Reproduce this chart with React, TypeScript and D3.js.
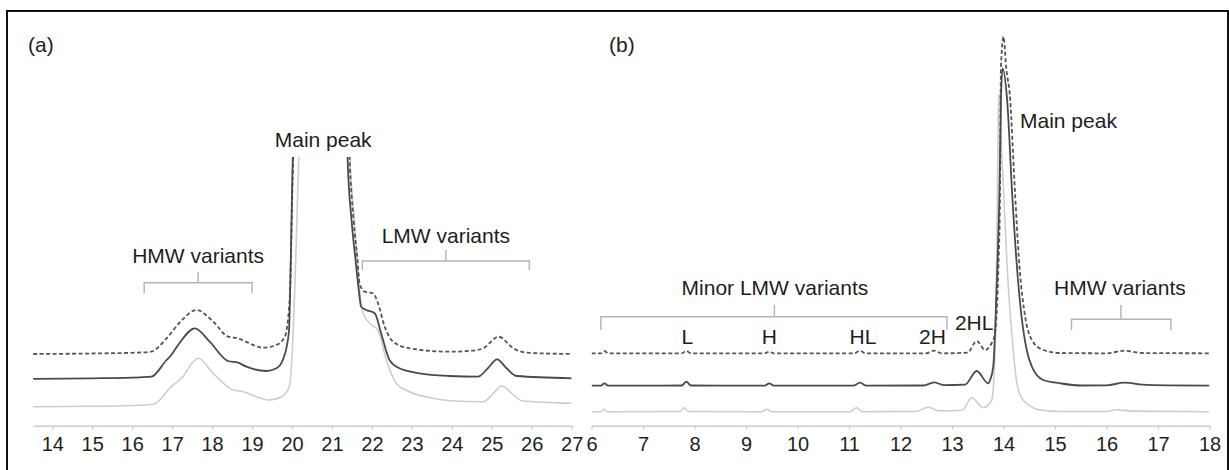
import React from "react";
import * as d3 from "d3";

// ---------- DATA (retention time in min, detector signal in arbitrary units) ----------
// Panel (a) – SEC chromatogram
const aDashed: [number, number][] = [
  [13.52, 71.7], [15.0, 72.2], [16.2, 73.2], [16.47, 74], [16.86, 87.4], [17.2, 103.7],
  [17.61, 115.7], [18.03, 104], [18.4, 89], [18.65, 87.4], [18.9, 83], [19.28, 78],
  [19.61, 80.7], [19.82, 89], [19.94, 125.7], [20.03, 268.7], [20.1, 345], [20.75, 825],
  [21.38, 345.7], [21.44, 268.7], [21.54, 205.7], [21.64, 165.7], [21.69, 142.4],
  [21.82, 134], [22.03, 132.4], [22.15, 122.7], [22.32, 99], [22.53, 84], [22.94, 77.4],
  [23.94, 74], [24.5, 75], [24.79, 77.4], [25.17, 89], [25.54, 77.4], [25.87, 73], [27, 71.7],
];
const aSolid: [number, number][] = [
  [13.52, 46.9], [15.0, 47.4], [16.2, 48.4], [16.48, 49], [16.86, 65.7], [16.98, 70.7],
  [17.15, 80.7], [17.57, 97.4], [17.94, 84], [18.4, 64.7], [18.65, 63], [18.86, 59],
  [19.36, 54.7], [19.61, 57.4], [19.77, 65.7], [19.92, 92.7], [20.02, 268.7], [20.08, 345.7],
  [20.75, 825.7], [21.36, 345.7], [21.39, 268.7], [21.49, 205.7], [21.59, 165.7],
  [21.67, 135.7], [21.73, 119], [21.86, 115.7], [22.07, 112.4], [22.23, 92.4], [22.44, 65.7],
  [22.69, 57.4], [23.19, 52.4], [23.94, 49.7], [24.65, 49], [24.9, 57.4], [25.13, 66.4],
  [25.37, 57.4], [25.62, 49.7], [27, 47.4],
];
const aLight: [number, number][] = [
  [13.52, 19], [15.0, 19.4], [16.2, 20.4], [16.53, 21.4], [16.98, 39], [17.23, 47.4],
  [17.65, 67.4], [18.03, 52.4], [18.53, 35.7], [18.78, 34], [19.11, 29], [19.44, 25.7],
  [19.74, 29], [19.93, 39], [20.01, 75.7], [20.1, 175.7], [20.17, 268.7], [20.22, 345.7],
  [20.8, 825.7], [21.42, 345.7], [21.45, 268.7], [21.56, 205.7], [21.63, 165.7],
  [21.72, 125.7], [21.78, 112.4], [21.99, 100.7], [22.15, 95.7], [22.36, 65.7],
  [22.61, 42.4], [22.94, 34], [23.53, 27.4], [23.94, 25], [24.79, 24], [25.0, 30.7],
  [25.25, 39.7], [25.5, 32.4], [25.75, 25], [27, 22.4],
];

// Panel (b)
const bDashed: [number, number][] = [
  [6.0, 72.4], [6.18, 72.4], [6.25, 74.7], [6.32, 72.4], [7.75, 72.4], [7.84, 74.7],
  [7.93, 72.4], [9.36, 72.4], [9.45, 74], [9.54, 72.4], [11.1, 72.4], [11.21, 75],
  [11.32, 72.4], [12.5, 72.4], [12.65, 75], [12.8, 72.4], [13.3, 73], [13.48, 84.7],
  [13.64, 75.7], [13.77, 82.7], [13.835, 92.7], [13.9, 159], [13.93, 225.7], [13.95, 359],
  [14.0, 389], [14.05, 359], [14.13, 325.7], [14.21, 245.7], [14.31, 159], [14.42, 109],
  [14.55, 85.7], [14.77, 75.7], [15.1, 72.7], [16.0, 72.4], [16.35, 75], [16.7, 72.7],
  [18.0, 72.4],
];
const bSolid: [number, number][] = [
  [6.0, 40], [6.18, 40], [6.25, 42.4], [6.32, 40], [7.75, 40.2], [7.84, 44], [7.93, 40.2],
  [9.36, 40], [9.45, 42.4], [9.54, 40], [11.08, 40], [11.21, 43], [11.34, 40],
  [12.45, 40.2], [12.65, 43.4], [12.85, 40.5], [13.25, 41], [13.48, 54.7], [13.7, 42.4],
  [13.74, 45.7], [13.8, 59], [13.835, 92.7], [13.88, 159], [13.92, 232.7], [13.95, 325.7],
  [13.98, 357.4], [14.07, 325.7], [14.17, 229.7], [14.26, 159], [14.35, 109], [14.45, 75.7],
  [14.55, 59], [14.77, 45.7], [15.1, 42.4], [15.5, 40.2], [16.0, 40.4], [16.35, 43],
  [16.7, 41], [17.2, 40.3], [18.0, 40],
];
const bLight: [number, number][] = [
  [6.0, 14], [6.18, 14], [6.24, 16.4], [6.3, 14], [7.72, 14.2], [7.8, 18], [7.88, 14.2],
  [9.3, 14], [9.4, 16.4], [9.5, 14], [11.02, 14], [11.14, 18], [11.26, 14], [12.3, 14.2],
  [12.54, 18.4], [12.75, 14.8], [13.2, 15.5], [13.38, 28], [13.61, 18], [13.77, 25.7],
  [13.83, 65.7], [13.87, 175.7], [13.89, 275.7], [13.905, 331.4], [13.93, 329.7],
  [13.95, 292.7], [14.01, 225.7], [14.07, 159], [14.16, 92.7], [14.26, 42.4], [14.38, 25.7],
  [14.71, 15.7], [15.1, 14.2], [16.0, 14.2], [16.2, 16], [16.5, 14.6], [18.0, 14],
];

// Axis ticks
const aTicks = [14, 15, 16, 17, 18, 19, 20, 21, 22, 23, 24, 25, 26, 27];
const bTicks = [6, 7, 8, 9, 10, 11, 12, 13, 14, 15, 16, 17, 18];

// Annotations: [text, x, y]
const aLabels: [string, number, number][] = [
  ["Main peak", 20.78, 278.7],
  ["HMW variants", 17.65, 162.7],
  ["LMW variants", 23.85, 182.7],
];
const bLabels: [string, number, number][] = [
  ["Minor LMW variants", 9.56, 130.7],
  ["L", 7.86, 81.7],
  ["H", 9.45, 81.7],
  ["HL", 11.27, 81.7],
  ["2H", 12.62, 81.7],
  ["2HL", 13.43, 95.7],
  ["HMW variants", 16.26, 130.7],
];
// Brackets: [x0, x1, xCenter, yLine, yEnds, yTop]
const aBrackets: [number, number, number, number, number, number][] = [
  [16.3, 19.0, 17.65, 143, 132.7, 153.7],
  [21.76, 25.94, 23.85, 164.7, 155.7, 175.7],
];
const bBrackets: [number, number, number, number, number, number][] = [
  [6.18, 12.9, 9.55, 109, 95.7, 120.7],
  [15.32, 17.25, 16.28, 106.4, 95.7, 120.7],
];

// ---------- LAYOUT ----------
const W = 1229;
const H = 470;
const AXIS_Y = 425.7;
const FONT = "'Liberation Sans', Arial, Helvetica, sans-serif";

const y = d3.scaleLinear().domain([0, 400]).range([AXIS_Y, AXIS_Y - 400]);
const xA = d3.scaleLinear().domain([13.52, 27]).range([33.1, 571.7]);
const xB = d3.scaleLinear().domain([6, 18]).range([591.6, 1209.5]);

const COLORS = { dashed: "#555555", solid: "#4a4a4a", light: "#cdcdcd", bracket: "#b3b3b3", axis: "#cccccc", text: "#1e1e1e" };

function Axis({ x, ticks }: { x: d3.ScaleLinear<number, number>; ticks: number[] }) {
  const ref = React.useRef<SVGGElement>(null);
  React.useEffect(() => {
    if (!ref.current) return;
    const g = d3.select(ref.current);
    g.selectAll("*").remove();
    g.call(d3.axisBottom(x).tickValues(ticks).tickSize(4).tickSizeOuter(0).tickPadding(7.5).tickFormat(d3.format("d")) as any);
    g.select(".domain").attr("stroke", COLORS.axis).attr("stroke-width", 1.5);
    g.selectAll(".tick line").attr("stroke", COLORS.axis).attr("stroke-width", 1.2);
    g.selectAll(".tick text").attr("fill", COLORS.text).attr("font-size", 20).attr("font-family", FONT);
  }, [x, ticks]);
  return <g ref={ref} transform={`translate(0,${AXIS_Y})`} />;
}

function Panel({
  x, ticks, series, labels, brackets, clipId, clipTop,
}: {
  x: d3.ScaleLinear<number, number>;
  ticks: number[];
  series: { data: [number, number][]; color: string; width: number; dash?: string }[];
  labels: [string, number, number][];
  brackets: [number, number, number, number, number, number][];
  clipId: string;
  clipTop: number;
}) {
  const line = d3.line<[number, number]>().x((d) => x(d[0])).y((d) => y(d[1])).curve(d3.curveMonotoneX);
  const [r0, r1] = x.range();
  return (
    <g>
      <defs>
        <clipPath id={clipId}>
          <rect x={r0} y={clipTop} width={r1 - r0} height={AXIS_Y - clipTop} />
        </clipPath>
      </defs>
      <g clipPath={`url(#${clipId})`}>
        {series.map((s, i) => (
          <path key={i} d={line(s.data) || ""} fill="none" stroke={s.color} strokeWidth={s.width}
            strokeDasharray={s.dash} strokeLinejoin="round" />
        ))}
      </g>
      {brackets.map((b, i) => {
        const [x0, x1, xc, yl, ye, yt] = b;
        const d = `M${x(x0)},${y(ye)} L${x(x0)},${y(yl)} L${x(x1)},${y(yl)} L${x(x1)},${y(ye)} M${x(xc)},${y(yl)} L${x(xc)},${y(yt)}`;
        return <path key={i} d={d} fill="none" stroke={COLORS.bracket} strokeWidth={1.4} />;
      })}
      {labels.map((l, i) => (
        <text key={i} x={x(l[1])} y={y(l[2])} textAnchor="middle" fontSize={21} fontFamily={FONT} fill={COLORS.text}>
          {l[0]}
        </text>
      ))}
      <Axis x={x} ticks={ticks} />
    </g>
  );
}

export default function App() {
  const styles = [
    { key: "dashed", color: COLORS.dashed, width: 1.8, dash: "4,2.5" },
    { key: "solid", color: COLORS.solid, width: 1.8 },
    { key: "light", color: COLORS.light, width: 1.6 },
  ];
  const aSeries = [aDashed, aSolid, aLight].map((data, i) => ({ data, ...styles[i] }));
  const bSeries = [bDashed, bSolid, bLight].map((data, i) => ({ data, ...styles[i] }));
  // put light traces underneath
  const order = (s: any[]) => [s[2], s[0], s[1]];
  return (
    <svg width={W} height={H} style={{ position: "absolute", left: 0, top: 0, background: "#fff" }}>
      <rect x={0} y={0} width={W} height={H} fill="#fff" />
      <path d={`M7,${H + 5} V11 H1228 V${H + 5}`} fill="none" stroke="#111" strokeWidth={2} />
      <text x={28} y={51.5} fontSize={21} fontFamily={FONT} fill={COLORS.text}>(a)</text>
      <text x={609} y={51.5} fontSize={21} fontFamily={FONT} fill={COLORS.text}>(b)</text>
      <Panel x={xA} ticks={aTicks} series={order(aSeries)} labels={aLabels} brackets={aBrackets} clipId="clipA" clipTop={157} />
      <Panel x={xB} ticks={bTicks} series={order(bSeries)} labels={bLabels} brackets={bBrackets} clipId="clipB" clipTop={20} />
      <text x={xB(14.32)} y={y(297.4)} fontSize={21} fontFamily={FONT} fill={COLORS.text}>Main peak</text>
    </svg>
  );
}
